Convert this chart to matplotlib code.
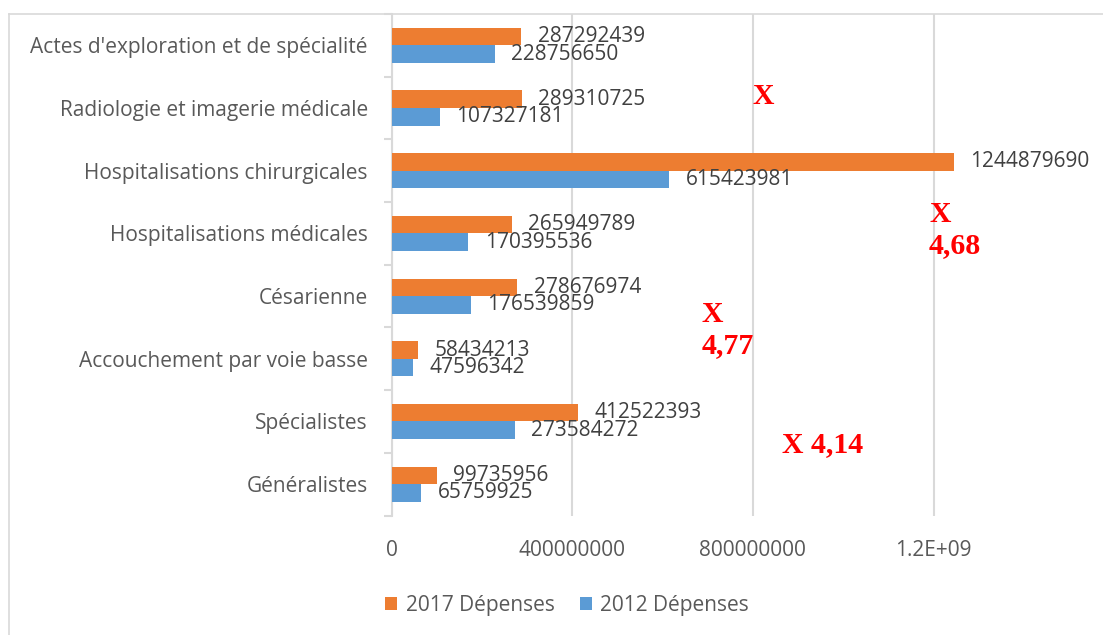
import matplotlib.pyplot as plt
import numpy as np
from matplotlib.lines import Line2D

categories = ["Généralistes", "Spécialistes", "Accouchement par voie basse", "Césarienne",
              "Hospitalisations médicales", "Hospitalisations chirurgicales",
              "Radiologie et imagerie médicale", "Actes d'exploration et de spécialité"]
dep_2017 = [99735956, 412522393, 58434213, 278676974, 265949789, 1244879690, 289310725, 287292439]
dep_2012 = [65759925, 273584272, 47596342, 176539859, 170395536, 615423981, 107327181, 228756650]
xticks = [0, 400000000, 800000000, 1200000000]
xtick_labels = ["0", "400000000", "800000000", "1.2E+09"]

W, H = 1103, 635
fig = plt.figure(figsize=(W / 100, H / 100), dpi=100)
ax = fig.add_axes([391.5 / W, 1 - 515.5 / H, (1060 - 391.5) / W, (515.5 - 14) / H])

font = "Open Sans"
fs = 15
grey = "#595959"
orange = "#ED7D31"
blue = "#5B9BD5"

y = np.arange(len(categories))
h = 0.28
ax.barh(y + h / 2, dep_2017, height=h, color=orange, label="2017 Dépenses", zorder=3)
ax.barh(y - h / 2, dep_2012, height=h, color=blue, label="2012 Dépenses", zorder=3)

# value labels to the right of each bar
off = 36000000
for i in range(len(categories)):
    ax.text(dep_2017[i] + off, y[i] + h / 2, str(dep_2017[i]), va="center", ha="left",
            fontsize=fs, color="#404040", family=font)
    ax.text(dep_2012[i] + off, y[i] - h / 2, str(dep_2012[i]), va="center", ha="left",
            fontsize=fs, color="#404040", family=font)

ax.set_xlim(0, 1.48e9)
ax.set_ylim(-0.5, len(categories) - 0.5)
ax.set_xticks(xticks)
ax.set_xticklabels(xtick_labels, fontsize=fs, color=grey, family=font)
ax.set_yticks(y)
ax.set_yticklabels(categories, fontsize=fs, color=grey, family=font)
ax.set_yticks(np.arange(-0.5, len(categories), 1), minor=True)
ax.tick_params(axis="x", length=0, pad=18)
ax.tick_params(axis="y", which="major", length=0, pad=17)
ax.tick_params(axis="y", which="minor", length=6, width=1.5, color="#d9d9d9")
ax.grid(axis="x", color="#d9d9d9", linewidth=1.5, zorder=0)
for s in ["top", "right", "bottom"]:
    ax.spines[s].set_visible(False)
ax.spines["left"].set_color("#d9d9d9")
ax.spines["left"].set_linewidth(1.5)

leg = fig.legend(loc="center", bbox_to_anchor=(567 / W, 1 - 605 / H), ncol=2, frameon=False,
                 prop={"family": font, "size": fs}, handlelength=0.6, handleheight=0.6,
                 handletextpad=0.4, columnspacing=1.2)
for t in leg.get_texts():
    t.set_color(grey)

# red annotations
red = dict(color="red", fontsize=21.5, fontweight="bold", family="Liberation Serif",
           ha="left", va="top", linespacing=1.2)
fig.text(752 / W, 1 - 83 / H, "X", **red)
fig.text(929 / W, 1 - 201 / H, "X\n4,68", **red)
fig.text(702 / W, 1 - 301 / H, "X\n4,77", **red)
fig.text(782 / W, 1 - 431 / H, "X 4,14", **red)

# outer chart border
fig.add_artist(Line2D([9 / W, 9 / W], [0, 1 - 14 / H], color="#d9d9d9", linewidth=1.2))
fig.add_artist(Line2D([9 / W, 1], [1 - 14 / H, 1 - 14 / H], color="#d9d9d9", linewidth=1.2))

fig.savefig("out.png", dpi=100)
